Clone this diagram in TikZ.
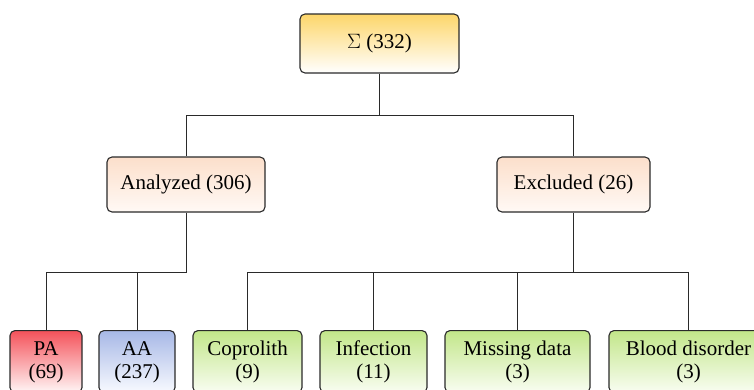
\documentclass[tikz,border=0pt]{standalone}
\usepackage{fontspec}
\setmainfont{Liberation Serif}
\definecolor{topc}{HTML}{FDD66A}
\definecolor{midc}{HTML}{FCDFCB}
\definecolor{midw}{HTML}{FFF9F5}
\definecolor{pac}{HTML}{F4525A}
\definecolor{paw}{HTML}{FFF6F6}
\definecolor{aac}{HTML}{A7B8E6}
\definecolor{aaw}{HTML}{F8FAFF}
\definecolor{grc}{HTML}{C2E689}
\definecolor{grw}{HTML}{F9FDF2}
\definecolor{linec}{HTML}{2A2A2A}
\tikzset{
  box/.style={rectangle, rounded corners=5pt, draw=linec, line width=1.1pt, inner sep=0pt, align=center, font=\fontsize{21}{23}\selectfont},
  leaf/.style={box, anchor=north, text height=48pt, text depth=14pt},
  conn/.style={draw=linec, line width=1pt},
}
\begin{document}
\begin{tikzpicture}[x=1pt, y=-1pt]
\useasboundingbox[clip] (0,0) rectangle (754,389);
\node[box, minimum width=159pt, minimum height=59pt, top color=topc, bottom color=white] (top) at (379.5,43.5) {$\Sigma$ (332)};
\node[box, minimum width=158pt, minimum height=55pt, top color=midc, bottom color=midw] (an) at (186,184.5) {Analyzed (306)};
\node[box, minimum width=153pt, minimum height=55pt, top color=midc, bottom color=midw] (ex) at (573.5,184.5) {Excluded (26)};
\node[leaf, minimum width=72pt, top color=pac, bottom color=paw] (pa) at (46,330) {PA\\(69)};
\node[leaf, minimum width=76pt, top color=aac, bottom color=aaw] (aa) at (137,330) {AA\\(237)};
\node[leaf, minimum width=109pt, top color=grc, bottom color=grw] (co) at (247.5,330) {Coprolith\\(9)};
\node[leaf, minimum width=107pt, top color=grc, bottom color=grw] (inf) at (373.5,330) {Infection\\(11)};
\node[leaf, minimum width=145pt, top color=grc, bottom color=grw] (md) at (517.5,330) {Missing data\\(3)};
\node[leaf, minimum width=159pt, top color=grc, bottom color=grw] (bd) at (688.5,330) {Blood disorder\\(3)};
\coordinate (j1) at (379.5,115);
\coordinate (j2) at (186,272);
\coordinate (j3) at (573.5,272);
\draw[conn] (top.south) -- (j1) -| (an.north);
\draw[conn] (j1) -| (ex.north);
\draw[conn] (an.south) -- (j2) -| (pa.north);
\draw[conn] (j2) -| (aa.north);
\draw[conn] (ex.south) -- (j3) -| (co.north);
\draw[conn] (j3) -| (inf.north);
\draw[conn] (j3) -| (md.north);
\draw[conn] (j3) -| (bd.north);
\end{tikzpicture}
\end{document}
